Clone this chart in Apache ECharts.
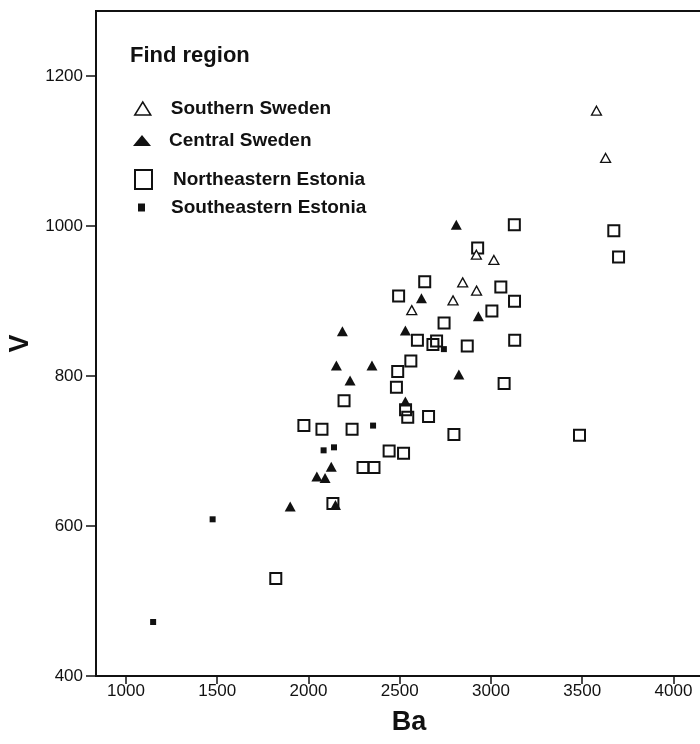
<!DOCTYPE html>
<html>
<head>
<meta charset="utf-8">
<script src="https://cdn.jsdelivr.net/npm/echarts@6/dist/echarts.min.js"></script>
<style>
html,body{margin:0;padding:0;background:#fff;}
#chart{width:700px;height:744px;}
</style>
</head>
<body>
<div id="chart"></div>
<script>
// ---- data (Ba, V) ----
const seriesNames = ['Southern Sweden', 'Central Sweden', 'Northeastern Estonia', 'Southeastern Estonia'];

const southernBa = [3578, 3628, 2920, 3016, 2845, 2921, 2792, 2566];
const southernV  = [1154, 1091, 962, 955, 925, 914, 901, 888];

const centralBa = [2810, 2619, 2931, 2186, 2531, 2153, 2348, 2228, 2824, 2531, 2125, 2046, 2091, 1900, 2148];
const centralV  = [1002, 904, 880, 860, 861, 814, 814, 794, 802, 766, 679, 666, 664, 626, 628];

const northeastBa = [3128, 2927, 3673, 3699, 2637, 2494, 3054, 3129, 3005, 2743, 2597, 2702, 2682, 2870, 3130, 2561, 2489,
                     3072, 2482, 2195, 2532, 2544, 2658, 2797, 3485, 1975, 2074, 2239, 2442, 2521, 2299, 2359, 2134, 1821];
const northeastV  = [1002, 971, 994, 959, 926, 907, 919, 900, 887, 871, 848, 847, 842, 840, 848, 820, 806,
                     790, 785, 767, 755, 745, 746, 722, 721, 734, 729, 729, 700, 697, 678, 678, 630, 530];

const southeastBa = [1149, 1475, 2083, 2140, 2354, 2742];
const southeastV  = [472, 609, 701, 705, 734, 836];

const xTicks = [1000, 1500, 2000, 2500, 3000, 3500, 4000];
const yTicks = [400, 600, 800, 1000, 1200];

const legendTitle = 'Find region';
const xName = 'Ba';
const yName = 'V';

function zip(a, b) { return a.map((v, i) => [v, b[i]]); }

const FONT = '"Liberation Sans", Arial, Helvetica, sans-serif';
const INK = '#111';

const chart = echarts.init(document.getElementById('chart'), null, {renderer: 'canvas'});

function legendFor(name, left, top, w, h, icon, itemStyle, pad) {
  return {
    data: [name], left: left, top: top, padding: 0,
    itemWidth: w, itemHeight: h, icon: icon,
    selectedMode: false,
    itemStyle: itemStyle,
    textStyle: {fontFamily: FONT, fontSize: 19, fontWeight: 'bold', color: INK, padding: [0, 0, 0, pad]}
  };
}

const option = {
  animation: false,
  backgroundColor: '#fff',
  title: {
    text: legendTitle, left: 130, top: 45, padding: 0,
    textStyle: {fontFamily: FONT, fontSize: 22, fontWeight: 'bold', color: INK}
  },
  legend: [
    legendFor(seriesNames[0], 134, 99, 16, 13, 'triangle', {color: '#fff', borderColor: INK, borderWidth: 1.5}, 15),
    legendFor(seriesNames[1], 133, 131, 18, 11, 'triangle', {color: INK, borderWidth: 0}, 13),
    legendFor(seriesNames[2], 134, 169, 17, 19, 'rect', {color: 'rgba(0,0,0,0)', borderColor: INK, borderWidth: 2}, 16),
    legendFor(seriesNames[3], 138, 198, 7, 8, 'rect', {color: INK, borderWidth: 0}, 21)
  ],
  grid: {
    left: 96, top: 11, right: -10, bottom: 68,
    outerBoundsMode: 'none', containLabel: false,
    show: true, borderColor: INK, borderWidth: 2, backgroundColor: 'transparent'
  },
  xAxis: {
    type: 'value', min: 836, max: 4200,
    name: xName, nameLocation: 'middle', nameGap: 33,
    nameTextStyle: {fontFamily: FONT, fontSize: 27, fontWeight: 'bold', color: INK, padding: [0, 0, 0, 12]},
    axisLine: {show: true, onZero: false, lineStyle: {color: INK, width: 2}},
    axisTick: {show: true, length: 8, lineStyle: {color: INK, width: 1.5}, customValues: xTicks},
    axisLabel: {fontFamily: FONT, fontSize: 17, color: INK, margin: 7, customValues: xTicks,
                formatter: function (v) { return String(v); }},
    splitLine: {show: false}
  },
  yAxis: {
    type: 'value', min: 400, max: 1287,
    name: yName, nameLocation: 'middle', nameGap: 52, nameRotate: 90,
    nameTextStyle: {fontFamily: FONT, fontSize: 27, fontWeight: 'bold', color: INK},
    axisLine: {show: true, onZero: false, lineStyle: {color: INK, width: 2}},
    axisTick: {show: true, length: 10, lineStyle: {color: INK, width: 1.5}, customValues: yTicks},
    axisLabel: {fontFamily: FONT, fontSize: 17, color: INK, margin: 13, customValues: yTicks,
                formatter: function (v) { return String(v); }},
    splitLine: {show: false}
  },
  series: [
    {
      name: seriesNames[2], type: 'scatter', symbol: 'rect', symbolSize: 11,
      itemStyle: {color: 'rgba(0,0,0,0)', borderColor: INK, borderWidth: 2, opacity: 1},
      emphasis: {disabled: true},
      data: zip(northeastBa, northeastV)
    },
    {
      name: seriesNames[0], type: 'scatter', symbol: 'triangle', symbolSize: [10, 9],
      itemStyle: {color: '#fff', borderColor: INK, borderWidth: 1.3, opacity: 1},
      emphasis: {disabled: true},
      data: zip(southernBa, southernV)
    },
    {
      name: seriesNames[1], type: 'scatter', symbol: 'triangle', symbolSize: [11, 10],
      itemStyle: {color: INK, opacity: 1},
      emphasis: {disabled: true},
      data: zip(centralBa, centralV)
    },
    {
      name: seriesNames[3], type: 'scatter', symbol: 'rect', symbolSize: 6,
      itemStyle: {color: INK, opacity: 1},
      emphasis: {disabled: true},
      data: zip(southeastBa, southeastV)
    }
  ]
};
chart.setOption(option);
</script>
</body>
</html>
